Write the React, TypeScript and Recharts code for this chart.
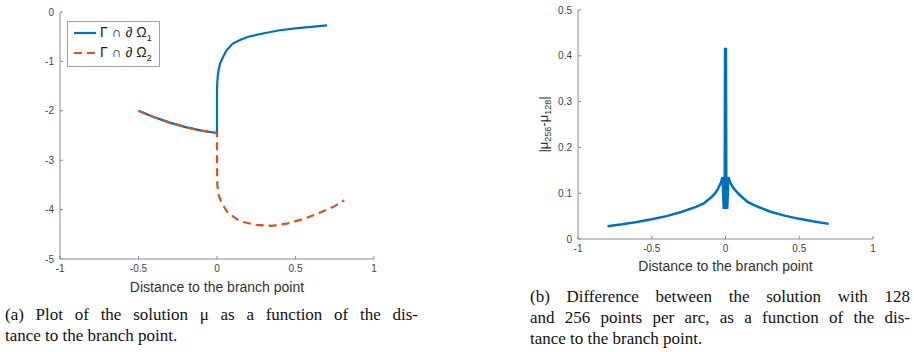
import React from "react";
import {
  LineChart,
  Line,
  XAxis,
  YAxis,
  Legend,
  Label,
} from "recharts";

// (a) solution mu along the two boundary arcs
const muDist1 = [-0.5, -0.4, -0.3, -0.2, -0.1, 0, 0, 0.002, 0.005, 0.01, 0.02, 0.04, 0.06, 0.1, 0.15, 0.2, 0.3, 0.4, 0.5, 0.6, 0.7];
const muVal1 = [-2.0, -2.13, -2.24, -2.33, -2.4, -2.45, -1.55, -1.42, -1.3, -1.18, -1.04, -0.9, -0.78, -0.64, -0.56, -0.5, -0.43, -0.37, -0.33, -0.3, -0.27];
const muDist2 = [-0.5, -0.4, -0.3, -0.2, -0.1, 0, 0, 0.002, 0.01, 0.03, 0.07, 0.15, 0.25, 0.35, 0.45, 0.55, 0.65, 0.75, 0.81];
const muVal2 = [-2.0, -2.13, -2.24, -2.33, -2.4, -2.45, -3.0, -3.5, -3.7, -3.87, -4.07, -4.24, -4.31, -4.33, -4.28, -4.19, -4.07, -3.93, -3.81];
const seriesNames = ["Γ ∩ ∂ Ω1", "Γ ∩ ∂ Ω2"];

// (b) |mu_256 - mu_128|
const diffDist = [-0.8, -0.7, -0.6, -0.5, -0.4, -0.3, -0.2, -0.15, -0.1, -0.07, -0.05, -0.03, -0.02, -0.012, -0.006, -0.003, 0.003, 0.006, 0.012, 0.02, 0.03, 0.05, 0.07, 0.1, 0.15, 0.2, 0.3, 0.4, 0.5, 0.6, 0.7];
const diffVal = [0.028, 0.032, 0.037, 0.043, 0.05, 0.059, 0.07, 0.077, 0.09, 0.1, 0.11, 0.124, 0.135, 0.068, 0.068, 0.415, 0.415, 0.068, 0.068, 0.135, 0.125, 0.113, 0.105, 0.095, 0.081, 0.073, 0.06, 0.051, 0.044, 0.038, 0.033];

const xTicks = [-1, -0.5, 0, 0.5, 1];
const muTicks = [-5, -4, -3, -2, -1, 0];
const diffTicks = [0, 0.1, 0.2, 0.3, 0.4, 0.5];

const captionA = ["(a) Plot of the solution μ as a function of the dis-", "tance to the branch point."];
const captionB = [
  "(b) Difference between the solution with 128",
  "and 256 points per arc, as a function of the dis-",
  "tance to the branch point.",
];

const toPoints = (xs: number[], ys: number[]) => xs.map((x, i) => ({ x, y: ys[i] }));

const BLUE = "#0072BD";
const ORANGE = "#D95319";
const AXIS = "#8c8c8c";
const TICK = "#444";
const SANS = "'Liberation Sans', Arial, sans-serif";
const SERIF = "'Liberation Serif', 'Times New Roman', serif";

const BottomTick = (p: any) => (
  <g>
    <line x1={p.x} y1={p.y} x2={p.x} y2={p.y - 3} stroke={AXIS} />
    <text x={p.x} y={p.y + 13} textAnchor="middle" fontSize={10} fill={TICK} fontFamily={SANS}>
      {String(p.payload.value)}
    </text>
  </g>
);
const LeftTick = (p: any) => (
  <g>
    <line x1={p.x} y1={p.y} x2={p.x + 3} y2={p.y} stroke={AXIS} />
    <text x={p.x - 6} y={p.y + 3.5} textAnchor="end" fontSize={10} fill={TICK} fontFamily={SANS}>
      {String(p.payload.value)}
    </text>
  </g>
);
const TopTick = (p: any) => <line x1={p.x} y1={p.y} x2={p.x} y2={p.y + 3} stroke={AXIS} />;
const RightTick = (p: any) => <line x1={p.x} y1={p.y} x2={p.x - 3} y2={p.y} stroke={AXIS} />;

const XTitle = ({ viewBox, dy }: any) => (
  <text
    x={viewBox.x + viewBox.width / 2}
    y={viewBox.y + dy}
    textAnchor="middle"
    fontSize={14}
    fill="#333"
    fontFamily={SANS}
  >
    Distance to the branch point
  </text>
);

const DiffTitle = ({ viewBox }: any) => {
  const cx = viewBox.x + 48;
  const cy = viewBox.y + viewBox.height / 2;
  return (
    <text
      transform={`translate(${cx},${cy}) rotate(-90)`}
      textAnchor="middle"
      fontSize={13}
      fill="#333"
      fontFamily={SANS}
    >
      |μ<tspan fontSize={9} dy={3}>256</tspan>
      <tspan dy={-3}>-μ</tspan>
      <tspan fontSize={9} dy={3}>128</tspan>
      <tspan dy={-3}>|</tspan>
    </text>
  );
};

const LegendBox = ({ payload }: any) => (
  <div
    style={{
      border: "1px solid #a0a0a0",
      background: "#fff",
      padding: "1px 7px 3px 5px",
      fontFamily: SANS,
      fontSize: 14,
      color: "#222",
    }}
  >
    {(payload || []).map((e: any) => (
      <div key={e.value} style={{ display: "flex", alignItems: "center", height: 20 }}>
        <svg width={24} height={10} style={{ marginRight: 3 }}>
          <line
            x1={1}
            y1={5}
            x2={23}
            y2={5}
            stroke={e.color}
            strokeWidth={2.2}
            strokeDasharray={e.payload?.strokeDasharray}
          />
        </svg>
        <span>
          {e.value.slice(0, -1)}
          <sub style={{ fontSize: 9 }}>{e.value.slice(-1)}</sub>
        </span>
      </div>
    ))}
  </div>
);

const Caption = ({ lines, left, top, width }: any) => (
  <div
    style={{
      position: "absolute",
      left,
      top,
      width,
      fontFamily: SERIF,
      fontSize: 17,
      lineHeight: "21px",
      color: "#111",
    }}
  >
    {lines.map((l: string, i: number) => (
      <div key={i} style={{ textAlign: "justify", textAlignLast: i < lines.length - 1 ? "justify" : "left" }}>
        {l}
      </div>
    ))}
  </div>
);

export default function App() {
  return (
    <div style={{ position: "absolute", left: 0, top: 0, width: 914, height: 352, background: "#fff" }}>
      <div style={{ position: "absolute", left: 0, top: 0 }}>
        <LineChart width={400} height={300} margin={{ top: 12, right: 26, bottom: 0, left: 0 }}>
          <XAxis
            type="number"
            dataKey="x"
            domain={[-1, 1]}
            ticks={xTicks}
            height={41}
            stroke={AXIS}
            tickSize={0}
            tickMargin={0}
            tickLine={false}
            tick={(p: any) => <BottomTick {...p} />}
            allowDataOverflow
          >
            <Label content={(p: any) => <XTitle {...p} dy={33} />} />
          </XAxis>
          <YAxis
            type="number"
            dataKey="y"
            domain={[-5, 0]}
            ticks={muTicks}
            width={60}
            stroke={AXIS}
            tickSize={0}
            tickMargin={0}
            tickLine={false}
            tick={(p: any) => <LeftTick {...p} />}
            allowDataOverflow
          />
          <Legend
            layout="vertical"
            align="center"
            verticalAlign="middle"
            content={(p: any) => <LegendBox {...p} />}
            wrapperStyle={{ left: 67, top: 21, width: "auto", height: "auto", margin: 0 }}
          />
          <Line
            data={toPoints(muDist1, muVal1)}
            dataKey="y"
            name={seriesNames[0]}
            type="linear"
            stroke={BLUE}
            strokeWidth={2.2}
            dot={false}
            isAnimationActive={false}
          />
          <Line
            data={toPoints(muDist2, muVal2)}
            dataKey="y"
            name={seriesNames[1]}
            type="linear"
            stroke={ORANGE}
            strokeWidth={2.2}
            strokeDasharray="8 5"
            dot={false}
            isAnimationActive={false}
          />
        </LineChart>
      </div>

      <div style={{ position: "absolute", left: 500, top: 0 }}>
        <LineChart width={414} height={290} margin={{ top: 10, right: 41, bottom: 0, left: 0 }}>
          <XAxis
            xAxisId="b"
            type="number"
            dataKey="x"
            domain={[-1, 1]}
            ticks={xTicks}
            height={51}
            stroke={AXIS}
            tickSize={0}
            tickMargin={0}
            tickLine={false}
            tick={(p: any) => <BottomTick {...p} />}
            allowDataOverflow
          >
            <Label content={(p: any) => <XTitle {...p} dy={32} />} />
          </XAxis>
          <XAxis
            xAxisId="t"
            orientation="top"
            type="number"
            dataKey="x"
            domain={[-1, 1]}
            ticks={xTicks}
            height={0}
            stroke={AXIS}
            tickSize={0}
            tickMargin={0}
            tickLine={false}
            tick={(p: any) => <TopTick {...p} />}
            allowDataOverflow
          />
          <YAxis
            yAxisId="l"
            type="number"
            dataKey="y"
            domain={[0, 0.5]}
            ticks={diffTicks}
            width={78}
            stroke={AXIS}
            tickSize={0}
            tickMargin={0}
            tickLine={false}
            tick={(p: any) => <LeftTick {...p} />}
            allowDataOverflow
          >
            <Label content={(p: any) => <DiffTitle {...p} />} />
          </YAxis>
          <YAxis
            yAxisId="r"
            orientation="right"
            type="number"
            dataKey="y"
            domain={[0, 0.5]}
            ticks={diffTicks}
            width={0}
            stroke={AXIS}
            tickSize={0}
            tickMargin={0}
            tickLine={false}
            tick={(p: any) => <RightTick {...p} />}
            allowDataOverflow
          />
          <Line
            xAxisId="b"
            yAxisId="l"
            data={toPoints(diffDist, diffVal)}
            dataKey="y"
            type="linear"
            stroke={BLUE}
            strokeWidth={2.5}
            dot={false}
            isAnimationActive={false}
          />
        </LineChart>
      </div>

      <Caption lines={captionA} left={5} top={304} width={413} />
      <Caption lines={captionB} left={530} top={286} width={380} />
    </div>
  );
}
